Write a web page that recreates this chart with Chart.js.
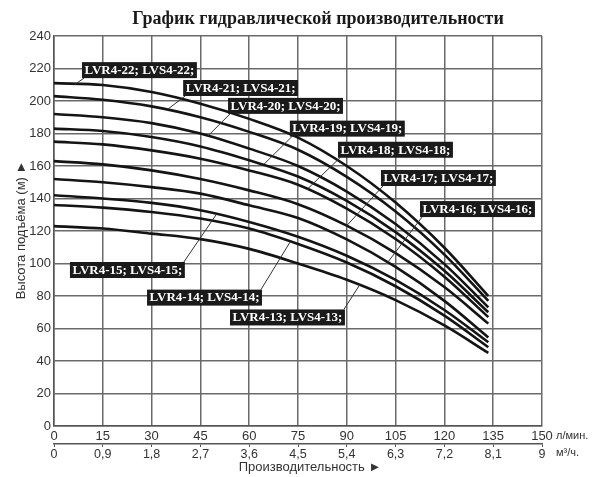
<!DOCTYPE html>
<html>
<head>
<meta charset="utf-8">
<script src="https://cdn.jsdelivr.net/npm/chart.js@4.4.1/dist/chart.umd.min.js"></script>
<style>
  html, body { margin: 0; padding: 0; background: #fff; }
  #wrap { width: 600px; height: 477px; position: relative; }
</style>
</head>
<body>
<div id="wrap"><canvas id="c"></canvas></div>
<script>
// ---- data ----
const flowLpm = [0, 15, 30, 45, 60, 75, 90, 105, 120, 133.5];
const models = ['22', '21', '20', '19', '18', '17', '16', '15', '14', '13'];
const head22 = [211, 209.8, 205.5, 198.3, 189, 177.5, 160, 137.5, 109.7, 80];
const head21 = [203, 200.8, 196.7, 190, 181, 170, 153.3, 132, 105.5, 77];
const head20 = [192, 190, 186.4, 180, 170.7, 160, 144.3, 124.3, 99.6, 73];
const head19 = [183, 181.5, 177.8, 172, 163.5, 153.5, 138.5, 119.3, 95.5, 70];
const head18 = [175, 173.3, 169.6, 164.5, 157.3, 148.5, 133.8, 115.1, 91.9, 67];
const head17 = [163, 161, 157.3, 152, 145, 136.5, 123.3, 106.4, 85.5, 63];
const head16 = [152, 150, 147, 143, 135.8, 128, 114.8, 97.9, 77, 54.5];
const head15 = [142, 140, 137.3, 132.8, 125.6, 116.5, 104.8, 89.9, 71.4, 51.5];
const head14 = [136, 134.4, 131.7, 127.7, 121.5, 112, 100.6, 86, 67.9, 48.5];
const head13 = [123, 121.5, 118.4, 115, 109, 100, 90, 77.5, 61.9, 45];
const heads = [head22, head21, head20, head19, head18, head17, head16, head15, head14, head13];

const lpmTicks = [0, 15, 30, 45, 60, 75, 90, 105, 120, 135, 150];
const m3Ticks = [0, 0.9, 1.8, 2.7, 3.6, 4.5, 5.4, 6.3, 7.2, 8.1, 9];
const m3Labels = ['0', '0,9', '1,8', '2,7', '3,6', '4,5', '5,4', '6,3', '7,2', '8,1', '9'];
const headTicks = [0, 20, 40, 60, 80, 100, 120, 140, 160, 180, 200, 220, 240];

const titleText = 'График гидравлической производительности';
const yTitle = 'Высота подъёма (м) ►';
const xTitle = 'Производительность ►';
const unitLpm = 'л/мин.';
const unitM3 = 'м³/ч.';

// label annotations: box left (flow), box centre (head), leader target (flow, head), leader corner
const labelModel = ['22', '21', '20', '19', '18', '17', '16', '15', '14', '13'];
const labelBoxFlow = [8.6, 39.7, 53.5, 72.5, 87.3, 100.5, 112.5, 4.9, 28.6, 54.1];
const labelBoxHead = [219, 208, 197, 183, 170, 152.6, 133.5, 96, 79, 66.8];
const labelTgtFlow = [6.5, 35, 47.3, 64.5, 78, 90, 102.5, 50, 72.5, 94];
const labelTgtHead = [210.3, 195, 178.5, 161, 146, 123.3, 100.5, 130.5, 113, 87];
const labelCorner = ['bl', 'bl', 'bl', 'bl', 'bl', 'bl', 'bl', 'tr', 'tr', 'tr'];

const datasets = models.map((m, i) => ({
  label: 'LVR4-' + m,
  data: flowLpm.map((f, j) => ({ x: f, y: heads[i][j] })),
  borderColor: '#141414',
  borderWidth: 2.6,
  pointRadius: 0,
  fill: false,
  cubicInterpolationMode: 'monotone'
}));

const SANS = '"Liberation Sans", Arial, sans-serif';
const SERIF = '"Liberation Serif", "Times New Roman", serif';

const decor = {
  id: 'decor',
  afterDatasetsDraw(chart) {
    const ctx = chart.ctx;
    const xs = chart.scales.x, ys = chart.scales.y;
    ctx.save();
    ctx.font = 'bold 13px ' + SERIF;
    for (let i = 0; i < labelModel.length; i++) {
      const text = 'LVR4-' + labelModel[i] + '; LVS4-' + labelModel[i] + ';';
      const w = ctx.measureText(text).width + 5;
      const h = 16;
      const left = xs.getPixelForValue(labelBoxFlow[i]);
      const cy = ys.getPixelForValue(labelBoxHead[i]);
      const top = cy - h / 2;
      let sx, sy;
      if (labelCorner[i] === 'bl') { sx = left + 2; sy = top + h; }
      else { sx = left + w - 1; sy = top; }
      const tx = xs.getPixelForValue(labelTgtFlow[i]);
      const ty = ys.getPixelForValue(labelTgtHead[i]);
      ctx.strokeStyle = '#333';
      ctx.lineWidth = 1;
      ctx.beginPath(); ctx.moveTo(sx, sy); ctx.lineTo(tx, ty); ctx.stroke();
      ctx.fillStyle = '#1a1a1a';
      ctx.fillRect(left, top, w, h);
      ctx.fillStyle = '#fff';
      ctx.textAlign = 'left';
      ctx.textBaseline = 'middle';
      ctx.fillText(text, left + 2.5, cy + 0.5);
    }
    ctx.restore();
  },
  afterDraw(chart) {
    const ctx = chart.ctx;
    const area = chart.chartArea;
    ctx.save();
    // title
    ctx.fillStyle = '#1a1a1a';
    ctx.font = 'bold 18px ' + SERIF;
    ctx.textAlign = 'center';
    ctx.textBaseline = 'middle';
    ctx.fillText(titleText, 318, 19);
    // y title
    ctx.save();
    ctx.translate(21, 230);
    ctx.rotate(-Math.PI / 2);
    ctx.font = '13px ' + SANS;
    ctx.fillStyle = '#333';
    ctx.fillText(yTitle, 0, 0);
    ctx.restore();
    // units
    ctx.font = '11px ' + SANS;
    ctx.fillStyle = '#333';
    ctx.textAlign = 'left';
    ctx.fillText(unitLpm, area.right + 14, 436);
    ctx.fillText(unitM3, area.right + 14, 453);
    // x title
    ctx.font = '13px ' + SANS;
    ctx.textAlign = 'center';
    ctx.fillText(xTitle, 310, 467);
    ctx.restore();
  }
};

new Chart(document.getElementById('c'), {
  type: 'line',
  data: { datasets },
  options: {
    responsive: true,
    maintainAspectRatio: false,
    animation: false,
    layout: { padding: { left: 0, top: 36, right: 58, bottom: 17 } },
    plugins: { legend: { display: false }, tooltip: { enabled: false }, title: { display: false } },
    scales: {
      x: {
        type: 'linear', position: 'bottom', min: 0, max: 150,
        afterBuildTicks: (s) => { s.ticks = lpmTicks.map(v => ({ value: v })); },
        ticks: { color: '#333', font: { family: SANS, size: 13 }, padding: 3, maxRotation: 0, autoSkip: false },
        grid: { color: '#6a6a6a', lineWidth: 1.5, drawTicks: false },
        border: { color: '#555', width: 1.5 },
        afterFit: (s) => { s.height = 18; }
      },
      x2: {
        type: 'linear', position: 'bottom', min: 0, max: 9,
        afterBuildTicks: (s) => { s.ticks = m3Ticks.map(v => ({ value: v })); },
        ticks: {
          color: '#333', font: { family: SANS, size: 12.5 }, padding: 0, maxRotation: 0, autoSkip: false,
          callback: (v, i) => m3Labels[i]
        },
        grid: { display: true, drawOnChartArea: false, drawTicks: true, tickLength: 3, color: '#555', lineWidth: 1 },
        border: { color: '#555', width: 1.5 },
        afterFit: (s) => { s.height = 16; }
      },
      y: {
        type: 'linear', min: 0, max: 240,
        afterBuildTicks: (s) => { s.ticks = headTicks.map(v => ({ value: v })); },
        ticks: { color: '#333', font: { family: SANS, size: 13 }, padding: 3 },
        grid: { color: '#6a6a6a', lineWidth: 1.5, drawTicks: false },
        border: { color: '#555', width: 1.5 },
        afterFit: (s) => { s.width = 54; }
      }
    }
  },
  plugins: [decor]
});
</script>
</body>
</html>
